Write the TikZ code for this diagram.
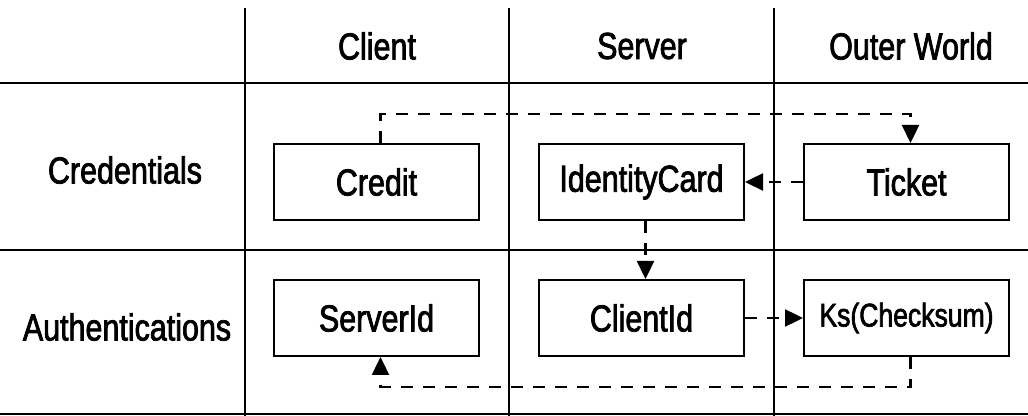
\documentclass[tikz,border=0pt]{standalone}
\usepackage{fontspec}
\setmainfont{Liberation Sans}[FakeStretch=0.81, FakeBold=2]
\usetikzlibrary{arrows.meta}

\begin{document}
\begin{tikzpicture}[
    x=0.5pt, y=-0.5pt,
    >={Triangle[length=9pt,width=8.5pt]},
    font=\fontsize{18.8pt}{22pt}\selectfont,
    rule/.style={line width=1pt},
    box/.style={draw, line width=1pt, minimum width=102.5pt,
                minimum height=38pt, inner sep=0pt},
    link/.style={->, line width=1.2pt, dash pattern=on 6pt off 5pt},
  ]
  \useasboundingbox (0,0) rectangle (1028,416);

  % table rules
  \draw[rule] (0,83) -- (1028,83)
              (0,250) -- (1028,250)
              (0,414) -- (1028,414);
  \foreach \x in {245,509,774}
    \draw[rule] (\x,8) -- (\x,416);

  % headers
  \node (client) at (377,46) {Client};
  \node (server) at (642,46) {Server};
  \node (outer)  at (911,46) {Outer World};
  \node (cred)   at (125,170) {Credentials};
  \node (auth)   at (127,327) {Authentications};

  % cells
  \node[box] (credit)   at (376.5,182) {Credit};
  \node[box] (idcard)   at (641.5,182) {IdentityCard};
  \node[box] (ticket)   at (906.5,182) {Ticket};
  \node[box] (serverid) at (376.5,318) {ServerId};
  \node[box] (clientid) at (641.5,318) {ClientId};
  \node[box, font=\fontsize{16.4pt}{20pt}\selectfont] (ks) at (906.5,318) {Ks(Checksum)};

  % flows
  \draw[link] ([xshift=2pt]credit.north) -- ++(0,-29) -| ([xshift=2pt]ticket.north);
  \draw[link] (ticket.west) -- (idcard.east);
  \draw[link] ([xshift=2pt]idcard.south) -- ([xshift=2pt]clientid.north);
  \draw[link] (clientid.east) -- (ks.west);
  \draw[link] ([xshift=2pt]ks.south) -- ++(0,30) -| ([xshift=2pt]serverid.south);
\end{tikzpicture}
\end{document}
